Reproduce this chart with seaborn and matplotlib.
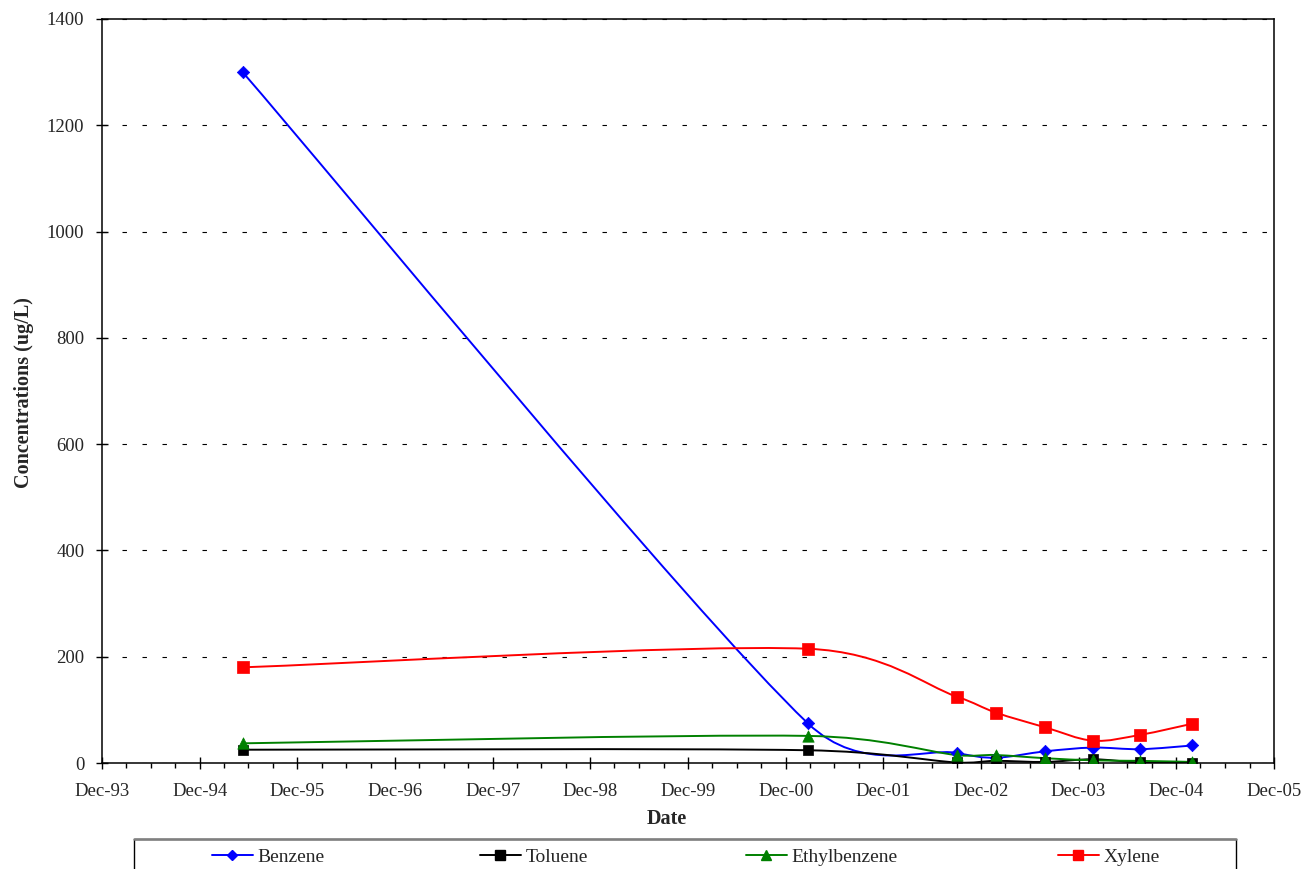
import numpy as np
import pandas as pd
import matplotlib
matplotlib.use("Agg")
import matplotlib.pyplot as plt
import matplotlib.dates as mdates
from matplotlib.path import Path
from matplotlib.patches import PathPatch, Rectangle
from matplotlib.lines import Line2D
import seaborn as sns

# Sampling dates (shared by all four compounds)
sample_dates = ["1995-05-11", "2001-02-21", "2002-09-01", "2003-01-25",
                "2003-07-30", "2004-01-24", "2004-07-19", "2005-01-30"]

# Concentrations, ug/L
benzene = [1300, 75, 19, 10, 22, 29, 26, 33]
toluene = [25, 24, 1, 4, 2, 7, 1, 0.5]
ethylbenzene = [37, 51, 15, 15, 9, 5, 4, 2]
xylene = [180, 215, 125, 95, 67, 42, 53, 74]

series_names = ["Benzene", "Toluene", "Ethylbenzene", "Xylene"]

# Axis ticks
x_tick_dates = ["1993-12-01", "1994-12-01", "1995-12-01", "1996-12-01",
                "1997-12-01", "1998-12-01", "1999-12-01", "2000-12-01",
                "2001-12-01", "2002-12-01", "2003-12-01", "2004-12-01",
                "2005-12-01"]
x_tick_labels = ["Dec-93", "Dec-94", "Dec-95", "Dec-96", "Dec-97", "Dec-98",
                 "Dec-99", "Dec-00", "Dec-01", "Dec-02", "Dec-03", "Dec-04",
                 "Dec-05"]
y_ticks = [0, 200, 400, 600, 800, 1000, 1200, 1400]

colors = {"Benzene": "#0000FF", "Toluene": "#000000",
          "Ethylbenzene": "#008000", "Xylene": "#FF0000"}
markers = {"Benzene": "D", "Toluene": "s", "Ethylbenzene": "^", "Xylene": "s"}
msizes = {"Benzene": 6.3, "Toluene": 7.8, "Ethylbenzene": 8.2, "Xylene": 8.2}

sns.set_theme(style="white")
plt.rcParams["font.family"] = ["Liberation Serif", "DejaVu Serif"]

df = pd.DataFrame({
    "Date": pd.to_datetime(sample_dates * 4),
    "Concentration": benzene + toluene + ethylbenzene + xylene,
    "Compound": np.repeat(series_names, len(sample_dates)),
})

fig = plt.figure(figsize=(13.07, 8.69), dpi=100)
ax = fig.add_axes([102 / 1307, 1 - 763 / 869, (1274 - 102) / 1307, (763 - 19) / 869])

# Axes limits first so the smoothing can work in screen space
tick_nums = mdates.date2num(pd.to_datetime(x_tick_dates))
ax.set_xlim(tick_nums[0], tick_nums[-1])
ax.set_ylim(0, 1400)


def smooth_path(xs, ys):
    """Cubic Bezier path through the points (spreadsheet-style smoothed line).

    Tangents follow the neighbouring points; each control arm is limited to
    half of its segment length (measured on screen) to avoid overshoot.
    """
    data_pts = np.column_stack([xs, ys]).astype(float)
    pts = ax.transData.transform(data_pts)
    n = len(pts)
    ext = np.vstack([pts[0], pts, pts[-1]])
    tangents = [(ext[i + 2] - ext[i]) / 6.0 for i in range(n)]

    def arm(t, seg_len):
        ln = np.hypot(*t)
        lim = seg_len / 2.0
        return t * (lim / ln) if ln > lim and ln > 0 else t

    verts = [pts[0]]
    codes = [Path.MOVETO]
    for i in range(n - 1):
        seg = np.hypot(*(pts[i + 1] - pts[i]))
        c1 = pts[i] + arm(tangents[i], seg)
        c2 = pts[i + 1] - arm(tangents[i + 1], seg)
        verts += [c1, c2, pts[i + 1]]
        codes += [Path.CURVE4] * 3
    verts = ax.transData.inverted().transform(np.array(verts))
    return Path(verts, codes)


for k, name in enumerate(series_names):
    sub = df[df["Compound"] == name]
    xnum = mdates.date2num(sub["Date"])
    patch = PathPatch(smooth_path(xnum, sub["Concentration"].values),
                      facecolor="none", edgecolor=colors[name], lw=1.4,
                      zorder=2 + k * 0.1)
    ax.add_patch(patch)
    sns.scatterplot(data=sub, x="Date", y="Concentration", ax=ax,
                    color=colors[name], marker=markers[name],
                    s=msizes[name] ** 2, edgecolor=colors[name], linewidth=0.5,
                    zorder=3 + k * 0.1, legend=False)

ax.set_xlim(tick_nums[0], tick_nums[-1])
ax.set_ylim(0, 1400)
ax.set_xticks(tick_nums)
ax.set_xticklabels(x_tick_labels)
ax.xaxis.set_minor_locator(mdates.MonthLocator(bymonth=[3, 6, 9, 12]))
ax.set_yticks(y_ticks)
ax.set_yticklabels([str(v) for v in y_ticks])

ax.tick_params(axis="x", which="major", direction="inout", length=8.5,
               width=1.0, color="black", labelsize=13.5, pad=10.5)
ax.tick_params(axis="x", which="minor", direction="out", length=3.5,
               width=1.0, color="black")
ax.tick_params(axis="y", which="major", direction="inout", length=8.5,
               width=1.0, color="black", labelsize=13.5, pad=8.5)
ax.tick_params(axis="x", bottom=True, which="both")
ax.tick_params(axis="y", left=True)

for sp in ax.spines.values():
    sp.set_visible(True)
    sp.set_color("black")
    sp.set_linewidth(1.1)

ax.yaxis.grid(True, color="black", linestyle=(0, (4, 14)), linewidth=0.8)
ax.xaxis.grid(False)
ax.set_axisbelow(True)

ax.set_xlabel("Date", fontsize=14.5, fontweight="bold")
ax.set_ylabel("Concentrations (ug/L)", fontsize=14.5, fontweight="bold")
ax.yaxis.set_label_coords(-68 / 1172, 0.498)
ax.xaxis.set_label_coords(0.482, -46 / 744)

# Legend box along the bottom edge
fig.patches.append(Rectangle((134 / 1307, 1 - 884 / 869), (1236 - 134) / 1307,
                             45 / 869, transform=fig.transFigure,
                             facecolor="white", edgecolor="black", lw=1.0))
fig.lines.append(Line2D([134 / 1307, 1236 / 1307], [1 - 839 / 869] * 2,
                        transform=fig.transFigure, color="#808080", lw=1.8))
legend_x = [212, 480, 746, 1058]
for name, lx in zip(series_names, legend_x):
    h = Line2D([], [], color=colors[name], lw=1.4, marker=markers[name],
               markersize=msizes[name] * 0.85, markeredgecolor=colors[name])
    fig.legend([h], [name], loc="center left",
               bbox_to_anchor=(lx / 1307, 1 - 857 / 869), frameon=False,
               borderaxespad=0, borderpad=0, handlelength=2.1,
               handletextpad=0.25, fontsize=14)

fig.savefig("out.png", dpi=100)
